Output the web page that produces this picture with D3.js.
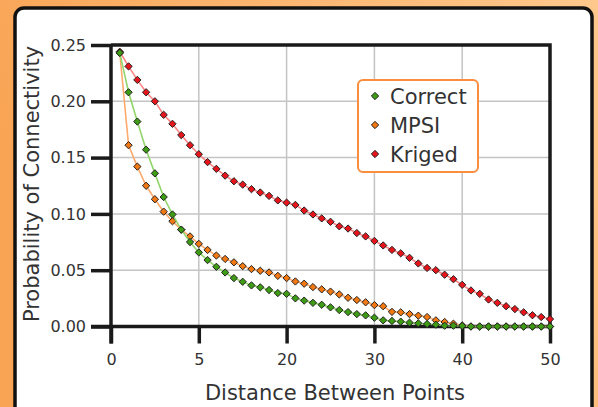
<!DOCTYPE html>
<html>
<head>
<meta charset="utf-8">
<script src="https://cdn.jsdelivr.net/npm/d3@7"></script>
<style>
  body { margin: 0; }
  svg { display: block; font-family: "DejaVu Sans", sans-serif; }
</style>
</head>
<body>
<svg width="598" height="407"></svg>
<script>
// distances 1..50
var distance = [1,2,3,4,5,6,7,8,9,10,11,12,13,14,15,16,17,18,19,20,
  21,22,23,24,25,26,27,28,29,30,31,32,33,34,35,36,37,38,39,40,
  41,42,43,44,45,46,47,48,49,50];

var kriged = [0.244,0.231,0.219,0.208,0.200,0.188,0.180,0.170,0.161,0.153,
  0.146,0.140,0.134,0.129,0.126,0.122,0.119,0.116,0.112,0.110,
  0.108,0.103,0.0995,0.096,0.093,0.089,0.087,0.083,0.080,0.076,
  0.072,0.068,0.065,0.061,0.056,0.052,0.050,0.046,0.042,0.037,
  0.032,0.029,0.024,0.021,0.018,0.0155,0.0126,0.010,0.0084,0.0066];

var mpsi = [0.243,0.161,0.142,0.125,0.113,0.102,0.0935,0.086,0.080,0.0734,
  0.068,0.063,0.060,0.057,0.0536,0.051,0.0495,0.048,0.045,0.043,
  0.040,0.038,0.035,0.033,0.031,0.0285,0.0255,0.0235,0.0215,0.019,
  0.018,0.013,0.0126,0.011,0.0096,0.0084,0.0055,0.004,0.0025,0.001,
  0,0,0,0,0,0,0,0,0,0];

var correct = [0.243,0.208,0.182,0.157,0.136,0.115,0.0995,0.086,0.075,0.0658,
  0.059,0.053,0.048,0.043,0.0397,0.0365,0.0348,0.0324,0.0297,0.029,
  0.025,0.023,0.021,0.0193,0.017,0.0146,0.0128,0.011,0.0099,0.0078,
  0.0055,0.0049,0.0043,0.0034,0.0028,0.0022,0.0016,0.0007,0.0007,0.0005,
  0,0,0,0,0,0,0,0,0,0];

var xTicks = [0,10,20,30,40,50];
var xTickLabels = ['0','5','20','30','40','50'];
var yTicks = [0,0.05,0.10,0.15,0.20,0.25];

var series = [
  {name:'Kriged', values:kriged, line:'#ff8585', fill:'#e8141c'},
  {name:'MPSI', values:mpsi, line:'#ffab6e', fill:'#f27812'},
  {name:'Correct', values:correct, line:'#92d66c', fill:'#3d9c14'}
];
var legendOrder = ['Correct','MPSI','Kriged'];

var svg = d3.select('svg');

// background
var defs = svg.append('defs');
var grad = defs.append('linearGradient')
    .attr('id', 'bg')
    .attr('x1', '0%').attr('y1', '30%')
    .attr('x2', '100%').attr('y2', '0%');
grad.append('stop').attr('offset', '0%').attr('stop-color', '#f9a455');
grad.append('stop').attr('offset', '100%').attr('stop-color', '#fec88c');

svg.append('rect')
    .attr('width', 598).attr('height', 407)
    .attr('fill', 'url(#bg)');

svg.append('rect')
    .attr('x', 15).attr('y', 8)
    .attr('width', 577).attr('height', 420)
    .attr('rx', 9)
    .attr('fill', '#fff')
    .attr('stroke', '#111')
    .attr('stroke-width', 3.5);

var x = d3.scaleLinear().domain([0, 50]).range([111, 550]);
var y = d3.scaleLinear().domain([0, 0.25]).range([326.5, 45]);

// grid
svg.append('g').selectAll('line')
    .data(xTicks.slice(1, -1))
    .enter().append('line')
    .attr('x1', function(d) { return x(d); })
    .attr('x2', function(d) { return x(d); })
    .attr('y1', y(0.25)).attr('y2', y(0))
    .attr('stroke', '#c4c4c4').attr('stroke-width', 1.5);

svg.append('g').selectAll('line')
    .data(yTicks.slice(1, -1))
    .enter().append('line')
    .attr('x1', x(0)).attr('x2', x(50))
    .attr('y1', function(d) { return y(d); })
    .attr('y2', function(d) { return y(d); })
    .attr('stroke', '#c4c4c4').attr('stroke-width', 1.5);

// frame top/right
svg.append('path')
    .attr('d', 'M' + x(0) + ',' + y(0.25) + 'H' + x(50) + 'V' + y(0))
    .attr('fill', 'none')
    .attr('stroke', '#1a1a1a').attr('stroke-width', 3.5);

// axes
var xAxis = d3.axisBottom(x)
    .tickValues(xTicks)
    .tickSize(17)
    .tickPadding(10)
    .tickFormat(function(d, i) { return xTickLabels[i]; });

var yAxis = d3.axisLeft(y)
    .tickValues(yTicks)
    .tickSize(20)
    .tickPadding(5)
    .tickFormat(d3.format('.2f'));

var gx = svg.append('g')
    .attr('transform', 'translate(0,' + y(0) + ')')
    .call(xAxis);
var gy = svg.append('g')
    .attr('transform', 'translate(' + x(0) + ',0)')
    .call(yAxis);

[gx, gy].forEach(function(g) {
  g.select('.domain').attr('stroke', '#1a1a1a').attr('stroke-width', 3.5);
  g.selectAll('.tick line').attr('stroke', '#1a1a1a').attr('stroke-width', 3.5);
  g.selectAll('.tick text')
      .attr('fill', '#333')
      .style('font-size', '16px')
      .style('font-family', '"DejaVu Sans", sans-serif');
});
gx.select('.domain').attr('d', 'M' + (x(0) - 20) + ',0H' + x(50));
gy.select('.domain').attr('d', 'M0,' + y(0.25) + 'V' + (y(0) + 17));

// series
var line = d3.line()
    .x(function(d, i) { return x(distance[i]); })
    .y(function(d) { return y(d); });

var diamond = d3.symbol().type(d3.symbolDiamond2).size(34);

series.forEach(function(s) {
  svg.append('path')
      .datum(s.values)
      .attr('d', line)
      .attr('fill', 'none')
      .attr('stroke', s.line)
      .attr('stroke-width', 1.6);

  svg.append('g').selectAll('path')
      .data(s.values)
      .enter().append('path')
      .attr('d', diamond)
      .attr('transform', function(d, i) {
        return 'translate(' + x(distance[i]) + ',' + y(d) + ')';
      })
      .attr('fill', s.fill)
      .attr('stroke', '#222')
      .attr('stroke-width', 1);
});

// axis titles
svg.append('text')
    .attr('x', 335).attr('y', 400)
    .attr('text-anchor', 'middle')
    .attr('fill', '#333')
    .style('font-size', '21px')
    .text('Distance Between Points');

svg.append('text')
    .attr('transform', 'translate(39,184) rotate(-90)')
    .attr('text-anchor', 'middle')
    .attr('fill', '#333')
    .style('font-size', '21px')
    .text('Probability of Connectivity');

// legend
var legend = svg.append('g').attr('transform', 'translate(358,80)');
legend.append('rect')
    .attr('width', 120).attr('height', 92)
    .attr('rx', 5)
    .attr('fill', '#fff')
    .attr('stroke', '#fb8d3e')
    .attr('stroke-width', 2);

var items = legend.selectAll('g.item')
    .data(legendOrder.map(function(n) {
      return series.filter(function(s) { return s.name == n; })[0];
    }))
    .enter().append('g')
    .attr('class', 'item')
    .attr('transform', function(d, i) { return 'translate(0,' + (16 + i * 29) + ')'; });

items.append('path')
    .attr('d', diamond)
    .attr('transform', 'translate(17,0)')
    .attr('fill', function(d) { return d.fill; })
    .attr('stroke', '#222')
    .attr('stroke-width', 1);

items.append('text')
    .attr('x', 32).attr('y', 0)
    .attr('dy', '0.36em')
    .attr('fill', '#333')
    .style('font-size', '21px')
    .text(function(d) { return d.name; });
</script>
</body>
</html>
